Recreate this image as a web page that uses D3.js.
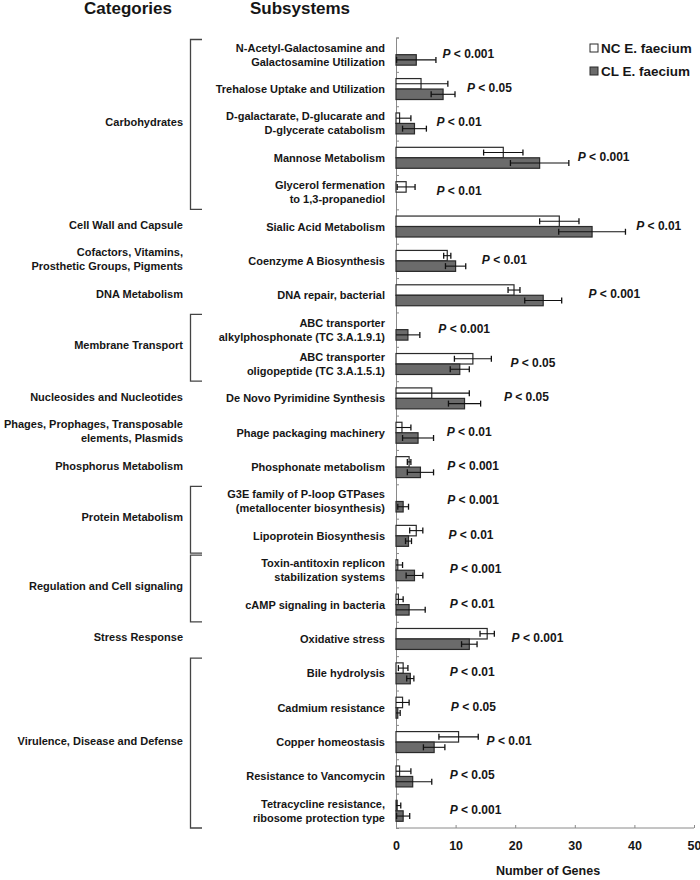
<!DOCTYPE html>
<html>
<head>
<meta charset="utf-8">
<script src="https://cdn.jsdelivr.net/npm/d3@7"></script>
<style>
  body { margin: 0; background: #fff; }
  text { font-family: "Liberation Sans", Arial, sans-serif; font-weight: bold; fill: #161616; }
</style>
</head>
<body>
<div id="viz"></div>
<script>
// data
const subsystems = [
  "N-Acetyl-Galactosamine and\nGalactosamine Utilization",
  "Trehalose Uptake and Utilization",
  "D-galactarate, D-glucarate and\nD-glycerate catabolism",
  "Mannose Metabolism",
  "Glycerol fermenation\nto 1,3-propanediol",
  "Sialic Acid Metabolism",
  "Coenzyme A Biosynthesis",
  "DNA repair, bacterial",
  "ABC transporter\nalkylphosphonate (TC 3.A.1.9.1)",
  "ABC transporter\noligopeptide (TC 3.A.1.5.1)",
  "De Novo Pyrimidine Synthesis",
  "Phage packaging machinery",
  "Phosphonate metabolism",
  "G3E family of P-loop GTPases\n(metallocenter biosynthesis)",
  "Lipoprotein Biosynthesis",
  "Toxin-antitoxin replicon\nstabilization systems",
  "cAMP signaling in bacteria",
  "Oxidative stress",
  "Bile hydrolysis",
  "Cadmium resistance",
  "Copper homeostasis",
  "Resistance to Vancomycin",
  "Tetracycline resistance,\nribosome protection type"
];
const ncValues = [0, 4.2, 0.6, 18.0, 1.7, 27.4, 8.6, 19.8, 0, 12.9, 6.0, 1.0, 2.2, 0, 3.4, 0.3, 0.4, 15.3, 1.2, 1.1, 10.5, 0.6, 0.2];
const ncErrors = [0, 4.5, 1.9, 3.3, 1.5, 3.3, 0.6, 1.0, 0, 3.1, 6.3, 1.5, 0.3, 0, 1.1, 0.8, 0.8, 1.2, 0.8, 1.1, 3.3, 1.9, 0.6];
const clValues = [3.4, 7.9, 3.1, 24.1, 0, 32.9, 10.0, 24.7, 2.0, 10.7, 11.5, 3.7, 4.1, 1.2, 2.1, 3.1, 2.2, 12.3, 2.4, 0.3, 6.4, 2.8, 1.2];
const clErrors = [3.3, 2.0, 2.0, 4.9, 0, 5.6, 1.7, 3.1, 2.0, 1.6, 2.7, 2.6, 2.2, 0.9, 0.5, 1.4, 2.7, 1.3, 0.6, 0.4, 1.8, 3.2, 1.1];
const pLabels = ["0.001", "0.05", "0.01", "0.001", "0.01", "0.01", "0.01", "0.001", "0.001", "0.05", "0.05", "0.01",
  "0.001", "0.001", "0.01", "0.001", "0.01", "0.001", "0.01", "0.05", "0.01", "0.05", "0.001"];
const pLabelAt = [7.8, 11.9, 6.8, 30.5, 6.8, 40.3, 14.4, 32.3, 7.1, 19.2, 18.1, 8.5, 8.6, 8.6, 8.8, 9.0, 9.0, 19.4, 9.0, 9.2, 15.2, 9.0, 9.0];

const categories = [
  "Carbohydrates", "Cell Wall and Capsule", "Cofactors, Vitamins,\nProsthetic Groups, Pigments",
  "DNA Metabolism", "Membrane Transport", "Nucleosides and Nucleotides",
  "Phages, Prophages, Transposable\nelements, Plasmids", "Phosphorus Metabolism", "Protein Metabolism",
  "Regulation and Cell signaling", "Stress Response", "Virulence, Disease and Defense"
];
const categorySizes = [5, 1, 1, 1, 2, 1, 1, 1, 2, 2, 1, 5];

const series = ["NC E. faecium", "CL E. faecium"];
const xTicks = [0, 10, 20, 30, 40, 50];

const W = 700, H = 880;
const COLOR = { nc: "#ffffff", cl: "#6b6b6b", edge: "#2a2a2a", axis: "#8a8a8a" };

const svg = d3.select("#viz").append("svg")
  .attr("width", W)
  .attr("height", H);

const x = d3.scaleLinear().domain([0, 50]).range([396, 694]);
const y = d3.scaleBand().domain(d3.range(subsystems.length)).range([37.5, 828]);
const rowEdge = d3.scaleLinear().domain([0, subsystems.length]).range([37.5, 828]);
const sub = d3.scaleBand().domain(["nc", "cl"]).range([0, y.bandwidth()]).paddingOuter(0.64);

// multi-line label helper
function addLines(sel, str, lh) {
  const lines = str.split("\n");
  lines.forEach((l, k) => {
    sel.append("tspan")
      .attr("x", sel.attr("x"))
      .attr("dy", k == 0 ? (-(lines.length - 1) * lh / 2) + "px" : lh + "px")
      .text(l);
  });
}

// headers
svg.append("text").attr("x", 128).attr("y", 14).attr("text-anchor", "middle")
  .style("font-size", "17px").text("Categories");
svg.append("text").attr("x", 300).attr("y", 14).attr("text-anchor", "middle")
  .style("font-size", "17px").text("Subsystems");

// subsystem labels
svg.selectAll(".sublabel")
  .data(subsystems)
  .enter()
  .append("text")
  .attr("class", "sublabel")
  .attr("x", 385)
  .attr("y", (d, i) => y(i) + y.bandwidth() / 2)
  .attr("dominant-baseline", "central")
  .attr("text-anchor", "end")
  .style("font-size", "11px")
  .each(function (d) { addLines(d3.select(this), d, 14); });

// categories + brackets
let start = 0;
categories.forEach((c, k) => {
  const n = categorySizes[k];
  const top = rowEdge(start), bot = rowEdge(start + n);
  const t = svg.append("text")
    .attr("x", 183)
    .attr("y", (top + bot) / 2 - 1.5)
    .attr("dominant-baseline", "central")
    .attr("text-anchor", "end")
    .style("font-size", "11px");
  addLines(t, c, 14);
  if (n > 1) {
    svg.append("path")
      .attr("d", `M202,${top + 2}H190.5V${bot}H202`)
      .attr("fill", "none")
      .attr("stroke", "#444")
      .attr("stroke-width", 1.3);
  }
  start += n;
});

// axes
const xAxis = svg.append("g")
  .attr("transform", "translate(0,828)")
  .call(d3.axisBottom(x).tickValues(xTicks).tickSize(-3).tickPadding(13));
xAxis.select(".domain").attr("stroke", COLOR.axis).attr("d", "M396,0H694");
xAxis.selectAll(".tick line").attr("stroke", COLOR.axis);
xAxis.selectAll(".tick text")
  .style("font-size", "12.5px").style("font-family", "Liberation Sans, Arial, sans-serif")
  .attr("fill", "#161616");

const yAxis = svg.append("g")
  .attr("transform", "translate(396,0)")
  .call(d3.axisLeft(rowEdge).tickValues(d3.range(subsystems.length + 1)).tickSize(-3).tickFormat(""));
yAxis.select(".domain").attr("stroke", COLOR.axis);
yAxis.selectAll(".tick line").attr("stroke", COLOR.axis);

svg.append("text").attr("x", 548).attr("y", 875).attr("text-anchor", "middle")
  .style("font-size", "12.5px").text("Number of Genes");

// bars
const rows = subsystems.map((s, i) => ({
  i: i,
  nc: ncValues[i], ncErr: ncErrors[i],
  cl: clValues[i], clErr: clErrors[i]
}));

const bars = [];
rows.forEach(r => {
  bars.push({ i: r.i, key: "nc", v: r.nc, e: r.ncErr });
  bars.push({ i: r.i, key: "cl", v: r.cl, e: r.clErr });
});

svg.selectAll(".bar")
  .data(bars.filter(b => b.v > 0))
  .enter()
  .append("rect")
  .attr("class", "bar")
  .attr("x", x(0))
  .attr("y", d => y(d.i) + sub(d.key))
  .attr("width", d => x(d.v) - x(0))
  .attr("height", sub.bandwidth())
  .attr("fill", d => COLOR[d.key])
  .attr("stroke", COLOR.edge)
  .attr("stroke-width", 1.2);

// error bars
const errs = svg.selectAll(".err")
  .data(bars.filter(b => b.e > 0))
  .enter()
  .append("g")
  .attr("class", "err")
  .attr("transform", d => `translate(0,${y(d.i) + sub(d.key) + sub.bandwidth() / 2})`);
errs.append("line")
  .attr("x1", d => x(Math.max(0, d.v - d.e)))
  .attr("x2", d => x(d.v + d.e))
  .attr("stroke", "#111").attr("stroke-width", 1.1);
errs.append("line")
  .attr("x1", d => x(d.v + d.e)).attr("x2", d => x(d.v + d.e))
  .attr("y1", -3).attr("y2", 3)
  .attr("stroke", "#111").attr("stroke-width", 1.3);
errs.filter(d => d.v - d.e > 0).append("line")
  .attr("x1", d => x(d.v - d.e)).attr("x2", d => x(d.v - d.e))
  .attr("y1", -3).attr("y2", 3)
  .attr("stroke", "#111").attr("stroke-width", 1.3);

// p values
const pt = svg.selectAll(".pval")
  .data(pLabels)
  .enter()
  .append("text")
  .attr("class", "pval")
  .attr("x", (d, i) => x(pLabelAt[i]))
  .attr("y", (d, i) => y(i) + y.bandwidth() / 2 - 1)
  .attr("dominant-baseline", "central")
  .style("font-size", "12px");
pt.append("tspan").style("font-style", "italic").text("P");
pt.append("tspan").text(d => " < " + d);

// legend
const legend = svg.selectAll(".legend")
  .data(series)
  .enter()
  .append("g")
  .attr("class", "legend")
  .attr("transform", (d, i) => `translate(590,${44 + i * 23})`);
legend.append("rect")
  .attr("width", 8).attr("height", 8)
  .attr("fill", (d, i) => i == 0 ? COLOR.nc : COLOR.cl)
  .attr("stroke", COLOR.edge).attr("stroke-width", 1);
legend.append("text")
  .attr("x", 11).attr("y", 4)
  .attr("dominant-baseline", "central")
  .style("font-size", "13.5px")
  .text(d => d);
</script>
</body>
</html>
